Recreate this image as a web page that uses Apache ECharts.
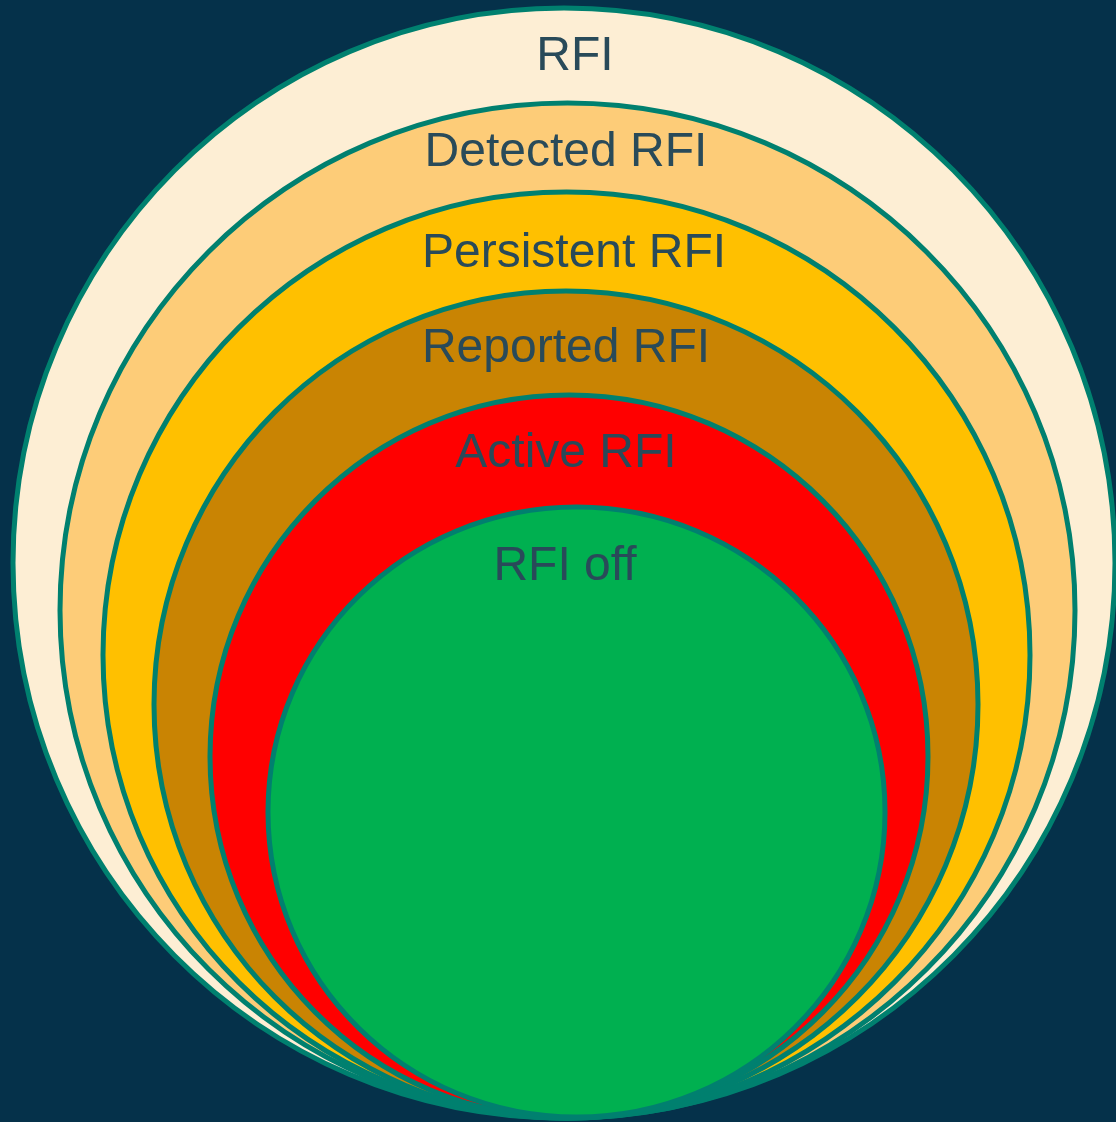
<!DOCTYPE html>
<html style="height: 100%">
<head>
  <meta charset="utf-8">
  <title>RFI</title>
</head>
<body style="height: 100%; margin: 0; background: #05314a">
<div id="container" style="width: 1116px; height: 1122px"></div>
<script type="text/javascript" src="https://cdn.jsdelivr.net/npm/echarts@6/dist/echarts.min.js"></script>
<script type="text/javascript">
  // nested ellipses, outermost first
  const names = ['RFI', 'Detected RFI', 'Persistent RFI', 'Reported RFI', 'Active RFI', 'RFI off']
  const centerX = [564, 567.5, 566.5, 566, 569, 576.5]
  const centerY = [563, 610.5, 655, 704.5, 756.5, 812]
  const radiusX = [551, 507.5, 463.5, 412, 359, 308.5]
  const radiusY = [555, 507.5, 463, 413.5, 361.5, 305]
  // where each label sits
  const labelX = [575, 566, 574, 566, 566, 565]
  const labelY = [57, 153, 254, 349, 454, 567]

  const fills = ['#fdeed4', '#fdcc78', '#ffc000', '#c98403', '#ff0000', '#00b050']

  let data = names.map((n, i) => [centerX[i], centerY[i], radiusX[i], radiusY[i], labelX[i], labelY[i]])

  let myChart = echarts.init(document.getElementById('container'))

  let option = {
    backgroundColor: '#05314a',
    animation: false,
    grid: { left: 0, right: 0, top: 0, bottom: 0 },
    xAxis: { type: 'value', min: 0, max: 1116, show: false },
    yAxis: { type: 'value', min: 0, max: 1122, inverse: true, show: false },
    series: [{
      type: 'custom',
      data: data,
      renderItem: (params, api) => {
        let c = api.coord([api.value(0), api.value(1)])
        let s = api.size([api.value(2), api.value(3)])
        return {
          type: 'ellipse',
          shape: { cx: c[0], cy: c[1], rx: s[0], ry: s[1] },
          style: { fill: fills[params.dataIndex], stroke: '#00806f', lineWidth: 5 }
        }
      }
    }, {
      // labels drawn on top of every ellipse
      type: 'custom',
      data: data,
      z: 5,
      renderItem: (params, api) => {
        let t = api.coord([api.value(4), api.value(5)])
        return {
          type: 'text',
          x: t[0],
          y: t[1],
          style: {
            text: names[params.dataIndex],
            fill: '#294a59',
            font: '48px "Liberation Sans", Arial, sans-serif',
            align: 'center',
            verticalAlign: 'middle'
          }
        }
      }
    }]
  }

  myChart.setOption(option)
</script>
</body>
</html>
